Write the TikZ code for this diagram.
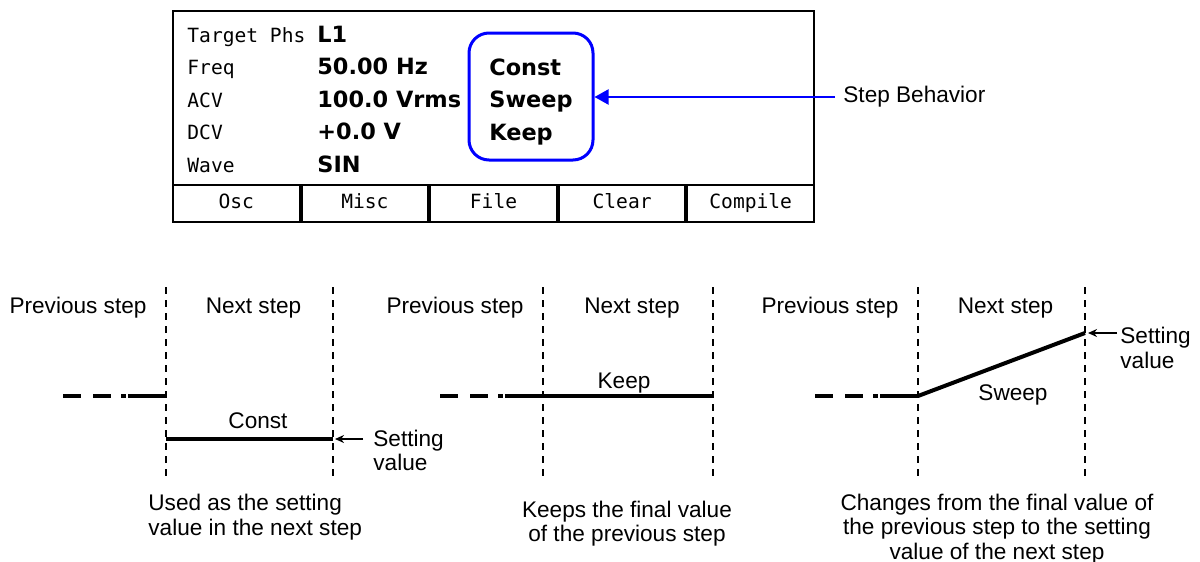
\documentclass[tikz,border=0pt]{standalone}
\usepackage{fontspec}
\setmainfont{Liberation Sans}
\newfontfamily\lcdmono{DejaVu Sans Mono}
\newfontfamily\lcdsans{DejaVu Sans}
\usetikzlibrary{arrows.meta, positioning}

\begin{document}
\begin{tikzpicture}[x=0.5pt, y=-0.5pt, node distance=0pt, font=\fontsize{11.3}{12.3}\selectfont]
		\tikzstyle{lcdlabel} = [anchor=base west, inner sep=0pt, font=\lcdmono\fontsize{9.8}{11}\selectfont]
		\tikzstyle{lcdvalue} = [anchor=base west, inner sep=0pt, font=\lcdsans\bfseries\fontsize{11.2}{13}\selectfont]
		\tikzstyle{softkey} = [draw, line width=1pt, outer sep=0.5pt, minimum width=63.3pt, minimum height=18.5pt, inner sep=0pt, text height=7pt, text depth=2pt, font=\lcdmono\fontsize{9.8}{11}\selectfont]
		\tikzstyle{behavbox} = [draw=blue, line width=1.5pt, rounded corners=10pt, minimum width=62pt, minimum height=63.5pt, align=left, font=\lcdsans\bfseries\fontsize{11.2}{16.25}\selectfont]
		\tikzstyle{bluearrow} = [draw=blue, line width=1pt, -{Triangle[length=7pt, width=7.5pt]}]
		\tikzstyle{stepdiv} = [draw, line width=0.8pt, dash pattern=on 3.5pt off 3pt]
		\tikzstyle{prevlevel} = [draw, line width=2pt, dash pattern=on 9.2pt off 5.8pt on 9.2pt off 5pt on 2.2pt off 1.2pt on 60pt off 1pt]
		\tikzstyle{steplevel} = [draw, line width=2pt]
		\tikzstyle{ptr} = [draw, line width=0.8pt, -{Stealth[length=4.5pt, width=4pt]}]
		\tikzstyle{remark} = [align=center, inner sep=0pt]

		\useasboundingbox[fill=white] (0,0) rectangle (1200,562);

		% LCD screen
		\node [draw, line width=1pt, minimum width=320.5pt, minimum height=105.5pt] (lcd) at (493.5,116.5) {};
		\node [lcdlabel] (tgtlbl) at (187,42) {Target Phs};
		\node [lcdlabel] (freqlbl) at (187,74.5) {Freq};
		\node [lcdlabel] (acvlbl) at (187,107) {ACV};
		\node [lcdlabel] (dcvlbl) at (187,139.5) {DCV};
		\node [lcdlabel] (wavelbl) at (187,172) {Wave};
		\node [lcdvalue] (tgtval) at (317,42) {L1};
		\node [lcdvalue] (freqval) at (317,74.5) {50.00 Hz};
		\node [lcdvalue] (acvval) at (317,107) {100.0 Vrms};
		\node [lcdvalue] (dcvval) at (317,139.5) {+0.0 V};
		\node [lcdvalue] (waveval) at (317,172) {SIN};

		\node [softkey, anchor=south west] (osc) at (lcd.south west) {Osc};
		\node [softkey, right=of osc] (misc) {Misc};
		\node [softkey, right=of misc] (file) {File};
		\node [softkey, right=of file] (clear) {Clear};
		\node [softkey, right=of clear] (compile) {Compile};

		\node [behavbox] (behav) at (531,96.5) {\rule{0pt}{13.5pt}Const\\Sweep\\Keep};
		\node [anchor=west, inner xsep=4pt] (stepbeh) at (835,97) {Step Behavior};
		\path [bluearrow] (stepbeh.west) -- (stepbeh.west -| behav.east);

		% step boundaries
		\foreach \xa/\xb/\p in {166/333/a, 543/713/b, 918/1085/c} {
			\node (prev\p) at (\xa-88,308) {Previous step};
			\node (next\p) at ({(\xa+\xb)/2+4},308) {Next step};
			\coordinate (da\p) at (\xa,287);
			\coordinate (db\p) at (\xb,287);
			\draw [stepdiv] (da\p) -- ++(0,193);
			\draw [stepdiv] (db\p) -- ++(0,193);
			\draw [prevlevel] (\xa-103,396) -- (\xa,396);
		}

		% Const
		\coordinate (cstart) at (166,439);
		\coordinate (cend) at (333,439);
		\draw [steplevel] (cstart) -- (cend);
		\node (constlbl) at (258,421) {Const};
		\node [anchor=west, align=left, inner xsep=5pt] (seta) at (363,450.5) {Setting\\value};
		\path [ptr] (seta.west |- cend) -- ([xshift=1pt]cend);
		\node [remark, anchor=west, align=left] (usea) at (148,517) {Used as the setting\\value in the next step};

		% Keep
		\coordinate (kstart) at (543,396);
		\coordinate (kend) at (713,396);
		\draw [steplevel] (kstart) -- (kend);
		\node (keeplbl) at (624,383) {Keep};
		\node [remark] (keepa) at (627,523.5) {Keeps the final value\\of the previous step};

		% Sweep
		\coordinate (sstart) at (918,396);
		\coordinate (send) at (1085,333);
		\draw [steplevel] (sstart) -- (send);
		\node (sweeplbl) at (1013,395) {Sweep};
		\node [anchor=west, align=left, inner xsep=1.5pt] (setc) at (1117,348) {Setting\\value};
		\path [ptr] (setc.west |- send) -- ([xshift=1.5pt]send);
		\node [remark] (sweepa) at (997,529) {Changes from the final value of\\the previous step to the setting\\value of the next step};
	\end{tikzpicture}
\end{document}
